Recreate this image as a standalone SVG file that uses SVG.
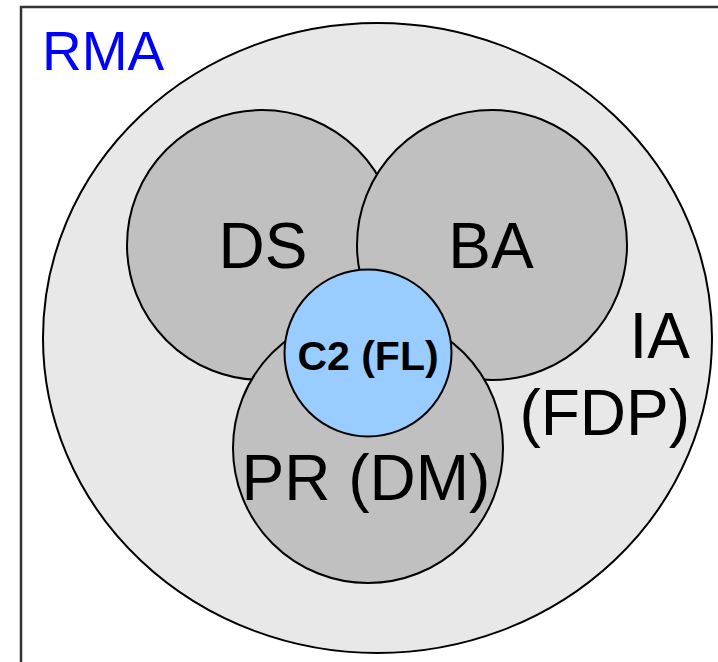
<svg xmlns="http://www.w3.org/2000/svg" width="718" height="662" viewBox="0 0 718 662">
  <style>
    .frame { fill: #ffffff; stroke: #333333; stroke-width: 2.5; }
    .outer { fill: #e8e8e8; stroke: #000000; stroke-width: 2; }
    .set { fill: #c0c0c0; stroke: #000000; stroke-width: 2; }
    .core { fill: #99ccff; stroke: #000000; stroke-width: 2; }
    .lbl { font-family: "Liberation Sans", Arial, sans-serif; font-size: 64px; fill: #000000; }
    .title { font-family: "Liberation Sans", Arial, sans-serif; font-size: 55px; fill: #0000ff; }
    .corelbl { font-family: "Liberation Sans", Arial, sans-serif; font-size: 41px; font-weight: bold; fill: #000000; }
  </style>

  <rect class="frame" x="21" y="7" width="720" height="680"/>
  <text class="title" x="42" y="70">RMA</text>

  <g id="IA">
    <ellipse class="outer" cx="377.5" cy="338" rx="334.5" ry="315"/>
    <text class="lbl" x="690" y="358" text-anchor="end">IA</text>
    <text class="lbl" x="690" y="435" text-anchor="end">(FDP)</text>
  </g>

  <g id="DS">
    <circle class="set" cx="262" cy="245" r="135"/>
    <text class="lbl" x="263" y="268" text-anchor="middle">DS</text>
  </g>

  <g id="BA">
    <circle class="set" cx="492" cy="245" r="135"/>
    <text class="lbl" x="491" y="268" text-anchor="middle">BA</text>
  </g>

  <g id="PR">
    <circle class="set" cx="368" cy="448" r="135"/>
    <text class="lbl" x="366" y="500" text-anchor="middle">PR (DM)</text>
  </g>

  <g id="C2">
    <circle class="core" cx="368" cy="353" r="83.5"/>
    <text class="corelbl" x="368" y="370" text-anchor="middle">C2 (FL)</text>
  </g>

  <g id="connectors"/>
</svg>
